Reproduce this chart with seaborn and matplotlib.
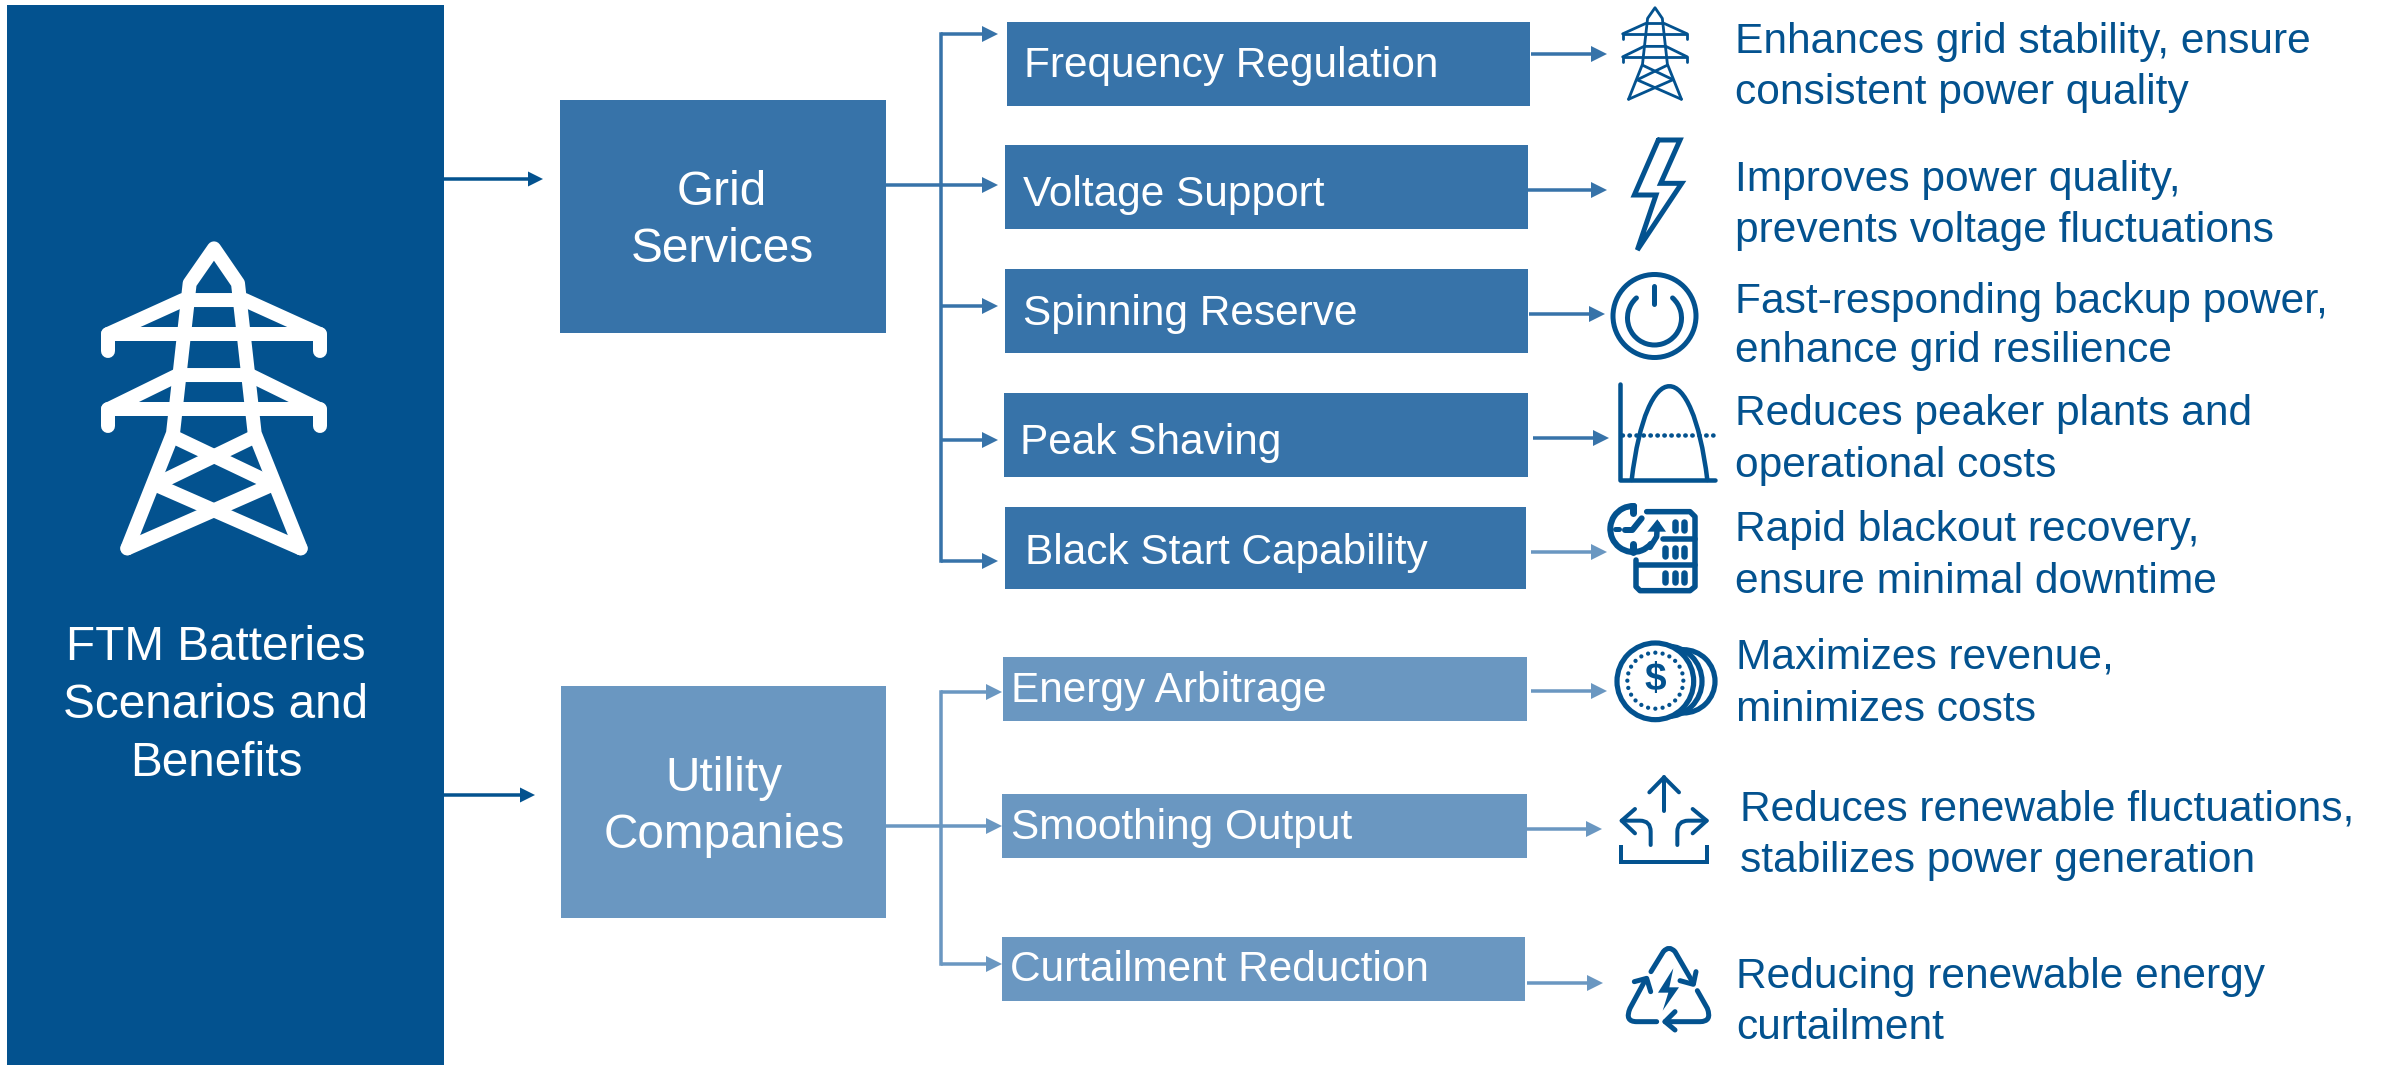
import numpy as np
import matplotlib
matplotlib.use('Agg')
import matplotlib.pyplot as plt
from matplotlib.patches import Rectangle, Polygon, Circle, Arc, PathPatch
from matplotlib.path import Path
import seaborn as sns

# chart text
panel_lines = ['FTM Batteries', 'Scenarios and', 'Benefits']
group_lines = [['Grid', 'Services'], ['Utility', 'Companies']]
box_labels = ['Frequency Regulation', 'Voltage Support', 'Spinning Reserve', 'Peak Shaving',
              'Black Start Capability', 'Energy Arbitrage', 'Smoothing Output', 'Curtailment Reduction']
benefits = [['Enhances grid stability, ensure', 'consistent power quality'],
            ['Improves power quality,', 'prevents voltage fluctuations'],
            ['Fast-responding backup power,', 'enhance grid resilience'],
            ['Reduces peaker plants and', 'operational costs'],
            ['Rapid blackout recovery,', 'ensure minimal downtime'],
            ['Maximizes revenue,', 'minimizes costs'],
            ['Reduces renewable fluctuations,', 'stabilizes power generation'],
            ['Reducing renewable energy', 'curtailment']]

# layout, in reference pixels
box_x0 = [1007, 1005, 1005, 1004, 1005, 1003, 1002, 1002]
box_x1 = [1530, 1528, 1528, 1528, 1526, 1527, 1527, 1525]
box_y0 = [22, 145, 269, 393, 507, 657, 794, 937]
box_y1 = [106, 229, 353, 477, 589, 721, 858, 1001]
label_x = [1024, 1023, 1023, 1020, 1025, 1011, 1011, 1010]
label_y = [77, 206, 325, 454, 564, 702, 839, 981]
arrow_y = [54, 190, 314, 438, 552, 691, 829, 983]
arrow_x0 = [1531, 1528, 1529, 1533, 1531, 1531, 1527, 1527]
arrow_x1 = [1607, 1607, 1605, 1609, 1607, 1607, 1602, 1603]
benefit_x = [1735, 1735, 1735, 1735, 1735, 1736, 1740, 1736]
benefit_y = [[53, 104], [191, 242], [313, 362], [425, 477], [541, 593], [668, 721], [820, 872], [988, 1039]]
branch_y = [[34, 185, 306, 440, 561], [692, 826, 964]]

NAVY = '#03528F'
MID = '#3773A9'
LIGHT = '#6A97C1'
FONT = 'Liberation Sans'

sns.set_theme(style='white')
plt.rcParams['font.family'] = [FONT, 'DejaVu Sans']

fig, ax = plt.subplots(figsize=(23.84, 10.65), dpi=100)
fig.subplots_adjust(0, 0, 1, 1)
ax.set_xlim(0, 2384)
ax.set_ylim(1065, 0)
ax.axis('off')
sns.despine(ax=ax, left=True, bottom=True)


def px(w):
    return w * 0.72


def arrow(x0, x1, y, color, head=16, lw=3.5):
    ax.plot([x0, x1 - head + 1], [y, y], color=color, lw=px(lw), solid_capstyle='butt')
    ax.add_patch(Polygon([(x1 - head, y - head / 2), (x1, y), (x1 - head, y + head / 2)],
                         closed=True, fc=color, ec='none'))


def line(pts, off, s=1 / 3, lw=4.5, color=NAVY, cap='round', join='round', **kw):
    pts = np.array(pts, float)
    ax.plot(off[0] + pts[:, 0] * s, off[1] + pts[:, 1] * s, color=color, lw=px(lw),
            solid_capstyle=cap, solid_joinstyle=join, **kw)


def curve(verts, codes, off, s=1 / 3, lw=4.5, color=NAVY):
    verts = np.array(verts, float) * s + np.array(off)
    ax.add_patch(PathPatch(Path(verts, codes), fc='none', ec=color, lw=px(lw), capstyle='round',
                           joinstyle='round'))


def tower(ox, oy, s, lw, color):
    def seg(pts):
        line([(x - 643, y - 125) for x, y in pts], (ox, oy), s=s, lw=lw, color=color)
    seg([(383, 1045), (520, 700), (570, 250), (643, 145), (715, 250), (765, 700), (903, 1045)])
    seg([(325, 452), (325, 402), (960, 402), (960, 452)])
    seg([(325, 678), (325, 628), (960, 628), (960, 678)])
    seg([(325, 402), (550, 300), (735, 300), (960, 402)])
    seg([(325, 628), (535, 525), (750, 525), (960, 628)])
    seg([(525, 712), (815, 850)])
    seg([(760, 712), (475, 850)])
    seg([(383, 1045), (815, 855)])
    seg([(903, 1045), (470, 855)])


# blocks
ax.add_patch(Rectangle((7, 5), 437, 1060, fc=NAVY, ec='none'))
ax.add_patch(Rectangle((560, 100), 326, 233, fc=MID, ec='none'))
ax.add_patch(Rectangle((561, 686), 325, 232, fc=LIGHT, ec='none'))
for i, name in enumerate(box_labels):
    c = MID if i < 5 else LIGHT
    ax.add_patch(Rectangle((box_x0[i], box_y0[i]), box_x1[i] - box_x0[i], box_y1[i] - box_y0[i],
                           fc=c, ec='none'))
    ax.text(label_x[i], label_y[i], name, color='white', fontsize=30.5, va='baseline', ha='left')
    head_c = LIGHT if i >= 4 else MID
    arrow(arrow_x0[i], arrow_x1[i], arrow_y[i], head_c)
    for t, y in zip(benefits[i], benefit_y[i]):
        ax.text(benefit_x[i], y, t, color=NAVY, fontsize=30.6, va='baseline', ha='left')

for t, y in zip(panel_lines, [660, 718, 776]):
    ax.text(216, y, t, color='white', fontsize=34.4, ha='center', va='baseline')
for t, y in zip(group_lines[0], [205, 262]):
    ax.text(722, y, t, color='white', fontsize=34.4, ha='center', va='baseline')
for t, y in zip(group_lines[1], [791, 848]):
    ax.text(724, y, t, color='white', fontsize=34.4, ha='center', va='baseline')

# connectors
arrow(444, 543, 179, NAVY, head=15)
arrow(444, 535, 795, NAVY, head=15)
ax.plot([886, 941], [185, 185], color=MID, lw=px(3.5))
ax.plot([941, 941], [branch_y[0][0], branch_y[0][-1]], color=MID, lw=px(3.5), solid_capstyle='projecting')
for y in branch_y[0]:
    arrow(941, 998, y, MID)
ax.plot([886, 941], [826, 826], color=LIGHT, lw=px(3.5))
ax.plot([941, 941], [branch_y[1][0], branch_y[1][-1]], color=LIGHT, lw=px(3.5), solid_capstyle='projecting')
for y in branch_y[1]:
    arrow(941, 1002, y, LIGHT)

# big and small tower
tower(214, 241.7, 1 / 3, 14, 'white')
tower(1655, 5.7, 0.1017, 2.8, NAVY)

# lightning bolt
off = (1500, 0)
line([(475, 420), (540, 420), (482, 550), (545, 550), (412, 750), (468, 585), (403, 585), (475, 420)],
     off, lw=5, join='miter')

# power button
ax.add_patch(Circle((1654.5, 316), 41.5, fc='none', ec=NAVY, lw=px(5)))
ax.add_patch(Arc((1654.5, 318), 54, 54, theta1=-48, theta2=228, ec=NAVY, lw=px(5), capstyle='round'))
line([(463, 858), (463, 913)], off, lw=5)

# peak shaving
off = (1500, 340)
line([(360, 132), (360, 420), (645, 420)], off, lw=4.5)
curve([(395, 420), (440, 45), (576, 45), (622, 420)],
      [Path.MOVETO, Path.CURVE4, Path.CURVE4, Path.CURVE4], off, lw=4.5)
ax.plot([1622, 1713], [434.7, 434.7], color=NAVY, lw=px(4.5), linestyle=(0, (0.1, 1.45)),
        dash_capstyle='round')

# clock and server
line([(440, 515), (570, 515), (585, 530), (585, 740), (570, 752), (420, 752), (408, 740), (408, 660)],
     off, lw=5.5)
line([(490, 597), (585, 597)], off, lw=5.5)
line([(415, 675), (585, 675)], off, lw=5.5)
for x, y0, y1 in [(525, 545, 570), (553, 545, 570), (495, 623, 647), (525, 623, 647), (553, 623, 647),
                  (495, 700, 725), (525, 700, 725), (553, 700, 725)]:
    line([(x, y0), (x, y1)], off, lw=6.5)
ax.add_patch(Arc((1633.3, 529), 46, 46, theta1=40, theta2=272, ec=NAVY, lw=px(6), capstyle='round'))
line([(400, 497), (400, 520)], off, lw=7)
line([(345, 567), (358, 567)], off, lw=5)
line([(400, 612), (400, 635)], off, lw=7)
line([(375, 570), (397, 570), (425, 535)], off, lw=6)
line([(450, 622), (470, 590), (472, 552)], off, lw=5.5)
ax.add_patch(Polygon(np.array([(442, 575), (472, 538), (498, 575)]) / 3 + np.array(off), closed=True,
                     fc=NAVY, ec='none'))

# coins
off = (1500, 610)
for cx, r in [(550, 95), (500, 106), (466, 115)]:
    ax.add_patch(Circle((off[0] + cx / 3, off[1] + 214 / 3), r / 3, fc='white', ec=NAVY, lw=px(5.2)))
for a in np.arange(0, 360, 15):
    ax.add_patch(Circle((off[0] + (466 + 84 * np.cos(np.radians(a))) / 3,
                         off[1] + (212 + 84 * np.sin(np.radians(a))) / 3), 2.1, fc=NAVY, ec='none'))
ax.text(off[0] + 466 / 3, off[1] + 211 / 3, '$', color=NAVY, fontsize=28, ha='center', va='center',
        fontweight='bold')

# splitting arrows
off = (1500, 750)
line([(492, 183), (492, 82)], off, lw=4)
line([(448, 127), (492, 82), (537, 127)], off, lw=4)
line([(405, 177), (365, 212), (405, 250)], off, lw=4)
line([(578, 177), (620, 212), (578, 250)], off, lw=4)
curve([(365, 212), (420, 212), (452, 212), (452, 245), (452, 285)],
      [Path.MOVETO, Path.LINETO, Path.CURVE3, Path.CURVE3, Path.LINETO], off, lw=4)
curve([(620, 212), (565, 212), (532, 212), (532, 245), (532, 285)],
      [Path.MOVETO, Path.LINETO, Path.CURVE3, Path.CURVE3, Path.LINETO], off, lw=4)
line([(362, 285), (362, 337), (622, 337), (622, 285)], off, lw=4, cap='butt', join='miter')

# recycle symbol
curve([(453, 665), (490, 605), (507, 585), (525, 605), (580, 700)],
      [Path.MOVETO, Path.LINETO, Path.CURVE3, Path.CURVE3, Path.LINETO], off, lw=5)
line([(588, 665), (580, 703), (540, 692)], off, lw=5)
curve([(592, 722), (622, 775), (637, 815), (600, 815), (495, 815)],
      [Path.MOVETO, Path.LINETO, Path.CURVE3, Path.CURVE3, Path.LINETO], off, lw=5)
line([(525, 785), (495, 815), (525, 840)], off, lw=5)
curve([(470, 815), (410, 815), (373, 815), (390, 775), (437, 688)],
      [Path.MOVETO, Path.LINETO, Path.CURVE3, Path.CURVE3, Path.LINETO], off, lw=5)
line([(403, 695), (440, 685), (452, 725)], off, lw=5)
ax.add_patch(Polygon(np.array([(520, 655), (474, 728), (505, 728), (488, 782), (537, 712), (508, 712)]) / 3
                     + np.array(off), closed=True, fc=NAVY, ec='none'))

fig.savefig('out.png', dpi=100)
